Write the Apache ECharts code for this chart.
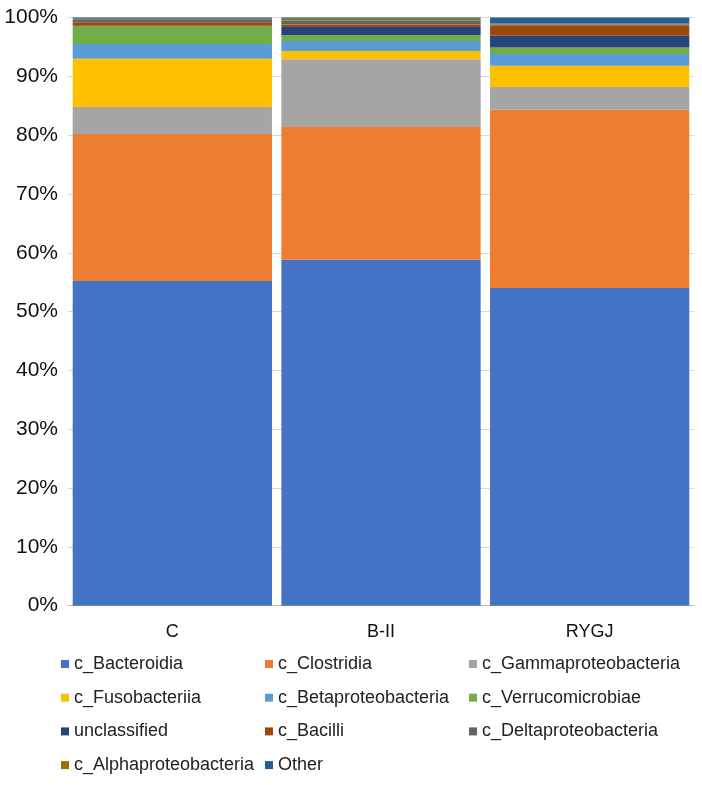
<!DOCTYPE html>
<html><head><meta charset="utf-8">
<script src="https://cdn.jsdelivr.net/npm/echarts@6/dist/echarts.min.js"></script>
<style>html,body{margin:0;padding:0;background:#fff}#c{width:702px;height:785px}</style>
</head><body><div id="c"></div>
<script>
const categories = ['C', 'B-II', 'RYGJ'];
const seriesNames = ['c_Bacteroidia','c_Clostridia','c_Gammaproteobacteria','c_Fusobacteriia','c_Betaproteobacteria','c_Verrucomicrobiae','unclassified','c_Bacilli','c_Deltaproteobacteria','c_Alphaproteobacteria','Other'];
const bacteroidia = [55.2, 58.8, 54.0];
const clostridia = [25.0, 22.6, 30.3];
const gamma = [4.6, 11.5, 3.9];
const fuso = [8.2, 1.4, 3.6];
const beta = [2.5, 1.7, 2.0];
const verruco = [3.0, 1.0, 1.1];
const unclassified = [0.1, 1.4, 2.0];
const bacilli = [0.6, 0.4, 1.7];
const delta = [0.5, 0.7, 0.2];
const alpha = [0.1, 0.3, 0.2];
const other = [0.2, 0.2, 1.0];
const yTicks = [0, 10, 20, 30, 40, 50, 60, 70, 80, 90, 100];

const values = [bacteroidia, clostridia, gamma, fuso, beta, verruco, unclassified, bacilli, delta, alpha, other];
const colors = ['#4472C4','#ED7D31','#A5A5A5','#FFC000','#5B9BD5','#70AD47','#264478','#9E480E','#636363','#997300','#255E91'];

const chart = echarts.init(document.getElementById('c'));
const font = 'Liberation Sans, Arial, sans-serif';
const cols = [[0,3,6,9],[1,4,7,10],[2,5,8]];
const colLeft = [61, 265, 469];
const legends = cols.map((idx, i) => ({
  orient: 'vertical', left: colLeft[i], top: 655, itemGap: 15.7, padding: 0,
  itemWidth: 8, itemHeight: 8, icon: 'rect',
  data: idx.map(k => seriesNames[k]),
  textStyle: {fontFamily: font, fontSize: 18, lineHeight: 18, color: '#222'}
}));
chart.setOption({
  animation: false,
  color: colors,
  grid: {left: 68, right: 8, top: 17.5, bottom: 179.3},
  legend: legends,
  xAxis: {
    type: 'category', data: categories,
    axisLine: {lineStyle: {color: '#bfbfbf'}}, axisTick: {show: false},
    axisLabel: {fontFamily: font, fontSize: 18, color: '#111', margin: 17}
  },
  yAxis: {
    type: 'value', min: 0, max: 100, interval: 10,
    axisLabel: {fontFamily: font, fontSize: 21, color: '#111', margin: 10, formatter: v => yTicks.includes(v) ? v + '%' : ''},
    splitLine: {lineStyle: {color: '#d9d9d9'}},
    axisLine: {show: false}, axisTick: {show: false}
  },
  series: seriesNames.map((n, i) => ({
    name: n, type: 'bar', stack: 'all', data: values[i],
    barCategoryGap: '4.5%'
  }))
});
</script></body></html>
